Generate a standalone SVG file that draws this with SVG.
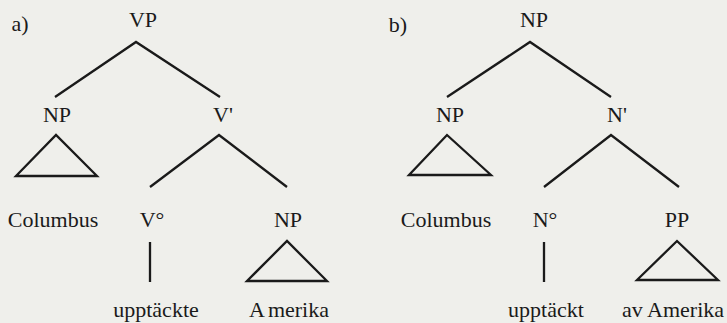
<svg xmlns="http://www.w3.org/2000/svg" width="727" height="323" viewBox="0 0 727 323">
<style>
.t text{font-size:22px;fill:#1a1a1a;text-anchor:middle}
.e{stroke:#1a1a1a;stroke-width:2.3;fill:none;stroke-linejoin:miter}
</style>
<rect width="727" height="323" fill="#efefeb"/>
<g class="t" font-family="Liberation Serif, DejaVu Serif, serif">
<g id="labels">
<text x="20" y="31">a)</text>
<text x="398" y="32">b)</text>
</g>
<g id="treeA">
<g id="a-VP"><text x="143" y="27">VP</text></g>
<g id="a-NP"><text x="57" y="122">NP</text></g>
<g id="a-Vbar"><text x="223" y="122">V'</text></g>
<g id="a-Columbus"><text x="53" y="227">Columbus</text></g>
<g id="a-V0"><text x="152" y="227">V°</text></g>
<g id="a-NP2"><text x="288" y="227">NP</text></g>
<g id="a-upptackte"><text x="156" y="317">upptäckte</text></g>
<g id="a-Amerika"><text x="289" y="317"><tspan>A</tspan><tspan dx="3">merika</tspan></text></g>
</g>
<g id="treeB">
<g id="b-NP"><text x="534" y="27">NP</text></g>
<g id="b-NP1"><text x="450" y="122">NP</text></g>
<g id="b-Nbar"><text x="617" y="122">N'</text></g>
<g id="b-Columbus"><text x="446" y="227">Columbus</text></g>
<g id="b-N0"><text x="545" y="227">N°</text></g>
<g id="b-PP"><text x="677" y="227">PP</text></g>
<g id="b-upptackt"><text x="546" y="317">upptäckt</text></g>
<g id="b-avAmerika"><text x="673" y="317">av Amerika</text></g>
</g>
</g>
<g id="connectors">
<path class="e" d="M55 97 L136 42 L220 97"/>
<path class="e" d="M16 176 L56 135 L97 176 Z"/>
<path class="e" d="M150 187 L219 135 L287 187"/>
<path class="e" d="M150 242 L150 282"/>
<path class="e" d="M247 281 L287 241 L327 281 Z"/>
<path class="e" d="M447 97 L530 42 L611 97"/>
<path class="e" d="M409 175 L447 135 L491 175 Z"/>
<path class="e" d="M544 187 L611 135 L679 187"/>
<path class="e" d="M544 242 L544 282"/>
<path class="e" d="M637 280 L677 241 L718 280 Z"/>
</g>
</svg>
